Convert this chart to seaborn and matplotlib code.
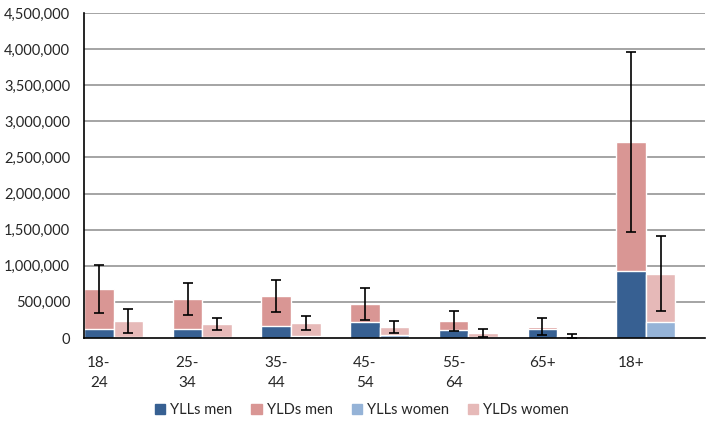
import pandas as pd
import numpy as np
import matplotlib
matplotlib.use('Agg')
import matplotlib.pyplot as plt
import seaborn as sns
from matplotlib.patches import Patch

# values
groups = ['18-24', '25-34', '35-44', '45-54', '55-64', '65+', '18+']
group_labels = ['18-\n24', '25-\n34', '35-\n44', '45-\n54', '55-\n64', '65+', '18+']
ylls_men = [125000, 125000, 171000, 226000, 116000, 120000, 921000]
ylds_men = [555000, 412000, 412000, 250000, 124000, 37000, 1792000]
ylls_women = [10000, 18000, 32000, 42000, 10000, 5000, 218000]
ylds_women = [226000, 176000, 172000, 106000, 64000, 23000, 671000]
err_men = [330000, 220000, 220000, 220000, 140000, 120000, 1250000]
err_women = [170000, 83000, 97000, 83000, 55000, 30000, 520000]

c_ylls_men = '#376092'
c_ylds_men = '#D99694'
c_ylls_women = '#95B3D7'
c_ylds_women = '#E6B9B8'

# each age group takes three slots: men, women, empty gap
slots = []
for g in groups:
    slots += [g + ' men', g + ' women', g + ' gap']

total_men = np.array(ylls_men) + np.array(ylds_men)
total_women = np.array(ylls_women) + np.array(ylds_women)

df_men = pd.DataFrame({'slot': [g + ' men' for g in groups],
                       'total': total_men, 'ylls': ylls_men, 'err': err_men})
df_women = pd.DataFrame({'slot': [g + ' women' for g in groups],
                         'total': total_women, 'ylls': ylls_women, 'err': err_women})

sns.set_style('white')
plt.rcParams['font.family'] = ['Lato', 'DejaVu Sans']

fig = plt.figure(figsize=(7.14, 4.23), dpi=100)
ax = fig.add_axes([84/714, 85/423, 621/714, 325/423])

for y in np.arange(500000, 4500001, 500000):
    ax.axhline(y, color='#8C8C8C', lw=1.1, zorder=0)

kw = dict(x='slot', order=slots, width=1.0, saturation=1, ax=ax, zorder=2)
sns.barplot(data=df_men, y='total', color=c_ylds_men, **kw)
sns.barplot(data=df_men, y='ylls', color=c_ylls_men, **kw)
sns.barplot(data=df_women, y='total', color=c_ylds_women, **kw)
sns.barplot(data=df_women, y='ylls', color=c_ylls_women, **kw)

pos_men = [slots.index(s) for s in df_men['slot']]
pos_women = [slots.index(s) for s in df_women['slot']]
ax.errorbar(pos_men, total_men, yerr=err_men, fmt='none', ecolor='black',
            elinewidth=1.2, capsize=3.5, capthick=1.2, zorder=3)
ax.errorbar(pos_women, total_women, yerr=err_women, fmt='none', ecolor='black',
            elinewidth=1.2, capsize=3.5, capthick=1.2, zorder=3)

ax.set_xlim(-0.5, len(slots) - 0.5)
ax.set_ylim(0, 4500000)
ax.set_yticks(np.arange(0, 4500001, 500000))
ax.set_yticklabels([f'{int(v):,}' for v in np.arange(0, 4500001, 500000)])
ax.set_xticks(pos_men)
ax.set_xticklabels(group_labels, linespacing=1.55)
ax.set_xticks(np.arange(-0.5, len(slots), 1), minor=True)
ax.tick_params(axis='x', which='major', length=0, pad=13, labelsize=11)
ax.tick_params(axis='x', which='minor', length=5, width=1, color='black', direction='out')
ax.tick_params(axis='y', length=6, width=1, color='black', direction='out', labelsize=10.5, pad=4)
ax.set_xlabel('')
ax.set_ylabel('')

for side in ['top', 'right']:
    ax.spines[side].set_visible(False)
for side in ['left', 'bottom']:
    ax.spines[side].set_color('black')
    ax.spines[side].set_linewidth(1.2)

handles = [Patch(color=c_ylls_men, label='YLLs men'),
           Patch(color=c_ylds_men, label='YLDs men'),
           Patch(color=c_ylls_women, label='YLLs women'),
           Patch(color=c_ylds_women, label='YLDs women')]
fig.legend(handles=handles, loc='center', bbox_to_anchor=(362/714, 1 - 410/423), ncol=4,
           frameon=False, fontsize=10.5, handlelength=0.7, handleheight=0.7,
           handletextpad=0.35, columnspacing=1.3)

fig.savefig('out.png', dpi=100)
